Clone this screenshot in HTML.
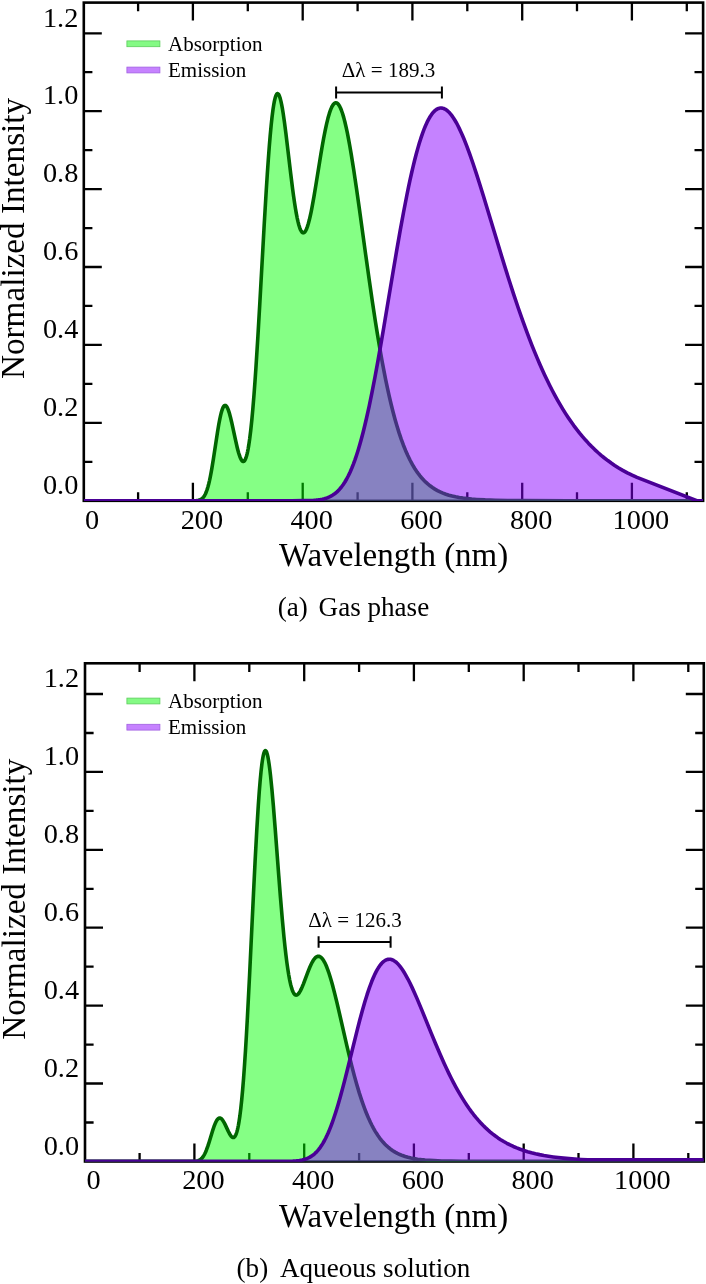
<!DOCTYPE html>
<html><head><meta charset="utf-8"><style>
html,body{margin:0;padding:0;background:#fff;}
svg{display:block;font-family:"Liberation Serif",serif;}
svg{will-change:transform;}
</style></head><body>
<svg width="706" height="1284" viewBox="0 0 706 1284">
<rect width="706" height="1284" fill="#fff"/>
<path d="M138.1 500.8v-8.6M138.1 2.6v8.6M192.9 500.8v-18.0M192.9 2.6v18.0M247.8 500.8v-8.6M247.8 2.6v8.6M302.7 500.8v-18.0M302.7 2.6v18.0M357.6 500.8v-8.6M357.6 2.6v8.6M412.4 500.8v-18.0M412.4 2.6v18.0M467.3 500.8v-8.6M467.3 2.6v8.6M522.2 500.8v-18.0M522.2 2.6v18.0M577.0 500.8v-8.6M577.0 2.6v8.6M631.9 500.8v-18.0M631.9 2.6v18.0M686.8 500.8v-8.6M686.8 2.6v8.6M83.8 461.8h8.6M703.1 461.8h-8.6M83.8 422.8h18.0M703.1 422.8h-18.0M83.8 383.9h8.6M703.1 383.9h-8.6M83.8 344.9h18.0M703.1 344.9h-18.0M83.8 305.9h8.6M703.1 305.9h-8.6M83.8 267.0h18.0M703.1 267.0h-18.0M83.8 228.1h8.6M703.1 228.1h-8.6M83.8 189.1h18.0M703.1 189.1h-18.0M83.8 150.1h8.6M703.1 150.1h-8.6M83.8 111.2h18.0M703.1 111.2h-18.0M83.8 72.2h8.6M703.1 72.2h-8.6M83.8 33.3h18.0M703.1 33.3h-18.0" stroke="#000" stroke-width="2.3" fill="none"/>
<rect x="83.8" y="2.6" width="619.3" height="498.2" fill="none" stroke="#000" stroke-width="2.6"/>
<clipPath id="c0"><rect x="83.80" y="2.60" width="619.30" height="498.50"/></clipPath>
<g clip-path="url(#c0)">
<path d="M83.80 500.70L193.40 500.68L196.35 500.57L197.45 500.46L198.40 500.30L199.25 500.10L200.05 499.82L200.80 499.48L201.50 499.06L202.55 498.20L203.55 497.08L204.50 495.67L205.40 493.98L206.25 492.00L207.10 489.64L207.90 487.02L208.70 484.02L209.45 480.84L210.25 477.07L211.05 472.92L211.90 468.14L213.55 457.96L217.60 431.40L218.80 424.30L219.90 418.55L220.55 415.56L221.20 412.92L221.80 410.82L222.40 409.05L223.05 407.52L223.65 406.48L224.25 405.79L224.55 405.58L224.85 405.46L225.10 405.42L225.40 405.46L225.65 405.55L225.95 405.75L226.50 406.31L227.05 407.14L227.60 408.22L228.20 409.66L228.80 411.37L229.40 413.30L230.45 417.17L231.60 421.97L235.55 440.23L237.10 446.98L237.85 449.96L238.60 452.69L239.30 454.97L240.00 456.96L240.70 458.63L241.40 459.95L242.10 460.88L242.45 461.20L242.75 461.38L243.10 461.49L243.40 461.49L243.75 461.39L244.05 461.21L244.40 460.88L244.70 460.49L245.30 459.44L245.90 457.98L246.45 456.29L247.00 454.25L247.55 451.84L248.10 449.05L248.65 445.89L249.70 438.78L250.75 430.23L251.85 419.73L252.95 407.68L254.05 394.12L254.95 381.97L255.90 368.20L257.90 336.42L259.80 303.61L264.15 225.65L266.25 190.32L267.30 174.01L268.30 159.55L269.25 146.94L270.20 135.51L271.15 125.38L272.05 117.02L273.00 109.57L273.90 103.83L274.35 101.44L274.80 99.38L275.25 97.64L275.70 96.22L276.15 95.11L276.60 94.32L277.05 93.83L277.30 93.69L277.55 93.64L277.85 93.70L278.20 93.93L278.50 94.26L278.85 94.81L279.50 96.25L280.20 98.39L280.90 101.11L281.65 104.62L282.40 108.68L283.15 113.25L284.45 122.18L285.85 132.91L290.75 174.06L292.65 189.21L293.60 196.23L294.55 202.78L295.45 208.48L296.30 213.38L297.15 217.78L298.00 221.64L298.85 224.95L299.65 227.54L300.50 229.73L301.30 231.25L301.70 231.83L302.10 232.27L302.50 232.58L302.95 232.78L303.35 232.83L303.80 232.73L304.25 232.48L304.70 232.07L305.15 231.52L305.60 230.82L306.05 229.98L306.50 228.99L307.40 226.63L308.35 223.58L309.35 219.81L310.35 215.52L311.20 211.51L312.10 206.94L314.00 196.39L315.85 185.30L320.80 154.61L322.30 145.78L323.65 138.27L325.15 130.55L326.60 123.83L328.00 118.11L329.35 113.39L330.10 111.13L330.85 109.12L331.60 107.39L332.35 105.93L333.10 104.75L333.85 103.85L334.60 103.23L334.95 103.03L335.35 102.89L335.70 102.83L336.10 102.83L336.45 102.90L336.85 103.05L337.60 103.55L338.35 104.33L339.10 105.37L339.85 106.69L340.60 108.26L341.40 110.22L342.55 113.52L343.70 117.38L344.85 121.77L346.05 126.88L347.30 132.74L348.55 139.11L349.85 146.23L351.20 154.09L353.70 169.74L356.45 188.24L359.40 209.08L366.05 257.36L369.10 279.12L372.35 301.50L375.35 321.17L377.10 332.13L378.85 342.69L380.55 352.53L382.25 361.95L383.95 370.95L385.65 379.53L387.35 387.68L389.05 395.41L391.00 403.76L393.00 411.77L395.00 419.23L397.05 426.34L399.10 432.91L401.20 439.13L403.35 444.97L405.55 450.45L407.80 455.54L410.10 460.27L412.45 464.63L414.90 468.71L417.40 472.44L418.70 474.21L420.00 475.88L421.35 477.51L422.70 479.04L424.10 480.52L425.50 481.91L427.75 483.95L430.05 485.81L432.45 487.55L434.90 489.12L437.45 490.56L440.15 491.89L442.95 493.10L445.90 494.19L448.95 495.16L452.20 496.03L455.60 496.80L459.25 497.49L463.10 498.08L467.25 498.60L471.75 499.05L476.60 499.42L485.20 499.89L495.40 500.22L507.75 500.45L523.55 500.59L567.30 500.69L703.10 500.70L703.10 500.80L83.80 500.80Z" fill="rgba(0,255,0,0.48)"/>
<path d="M83.80 500.70L193.40 500.68L196.35 500.57L197.45 500.46L198.40 500.30L199.25 500.10L200.05 499.82L200.80 499.48L201.50 499.06L202.55 498.20L203.55 497.08L204.50 495.67L205.40 493.98L206.25 492.00L207.10 489.64L207.90 487.02L208.70 484.02L209.45 480.84L210.25 477.07L211.05 472.92L211.90 468.14L213.55 457.96L217.60 431.40L218.80 424.30L219.90 418.55L220.55 415.56L221.20 412.92L221.80 410.82L222.40 409.05L223.05 407.52L223.65 406.48L224.25 405.79L224.55 405.58L224.85 405.46L225.10 405.42L225.40 405.46L225.65 405.55L225.95 405.75L226.50 406.31L227.05 407.14L227.60 408.22L228.20 409.66L228.80 411.37L229.40 413.30L230.45 417.17L231.60 421.97L235.55 440.23L237.10 446.98L237.85 449.96L238.60 452.69L239.30 454.97L240.00 456.96L240.70 458.63L241.40 459.95L242.10 460.88L242.45 461.20L242.75 461.38L243.10 461.49L243.40 461.49L243.75 461.39L244.05 461.21L244.40 460.88L244.70 460.49L245.30 459.44L245.90 457.98L246.45 456.29L247.00 454.25L247.55 451.84L248.10 449.05L248.65 445.89L249.70 438.78L250.75 430.23L251.85 419.73L252.95 407.68L254.05 394.12L254.95 381.97L255.90 368.20L257.90 336.42L259.80 303.61L264.15 225.65L266.25 190.32L267.30 174.01L268.30 159.55L269.25 146.94L270.20 135.51L271.15 125.38L272.05 117.02L273.00 109.57L273.90 103.83L274.35 101.44L274.80 99.38L275.25 97.64L275.70 96.22L276.15 95.11L276.60 94.32L277.05 93.83L277.30 93.69L277.55 93.64L277.85 93.70L278.20 93.93L278.50 94.26L278.85 94.81L279.50 96.25L280.20 98.39L280.90 101.11L281.65 104.62L282.40 108.68L283.15 113.25L284.45 122.18L285.85 132.91L290.75 174.06L292.65 189.21L293.60 196.23L294.55 202.78L295.45 208.48L296.30 213.38L297.15 217.78L298.00 221.64L298.85 224.95L299.65 227.54L300.50 229.73L301.30 231.25L301.70 231.83L302.10 232.27L302.50 232.58L302.95 232.78L303.35 232.83L303.80 232.73L304.25 232.48L304.70 232.07L305.15 231.52L305.60 230.82L306.05 229.98L306.50 228.99L307.40 226.63L308.35 223.58L309.35 219.81L310.35 215.52L311.20 211.51L312.10 206.94L314.00 196.39L315.85 185.30L320.80 154.61L322.30 145.78L323.65 138.27L325.15 130.55L326.60 123.83L328.00 118.11L329.35 113.39L330.10 111.13L330.85 109.12L331.60 107.39L332.35 105.93L333.10 104.75L333.85 103.85L334.60 103.23L334.95 103.03L335.35 102.89L335.70 102.83L336.10 102.83L336.45 102.90L336.85 103.05L337.60 103.55L338.35 104.33L339.10 105.37L339.85 106.69L340.60 108.26L341.40 110.22L342.55 113.52L343.70 117.38L344.85 121.77L346.05 126.88L347.30 132.74L348.55 139.11L349.85 146.23L351.20 154.09L353.70 169.74L356.45 188.24L359.40 209.08L366.05 257.36L369.10 279.12L372.35 301.50L375.35 321.17L377.10 332.13L378.85 342.69L380.55 352.53L382.25 361.95L383.95 370.95L385.65 379.53L387.35 387.68L389.05 395.41L391.00 403.76L393.00 411.77L395.00 419.23L397.05 426.34L399.10 432.91L401.20 439.13L403.35 444.97L405.55 450.45L407.80 455.54L410.10 460.27L412.45 464.63L414.90 468.71L417.40 472.44L418.70 474.21L420.00 475.88L421.35 477.51L422.70 479.04L424.10 480.52L425.50 481.91L427.75 483.95L430.05 485.81L432.45 487.55L434.90 489.12L437.45 490.56L440.15 491.89L442.95 493.10L445.90 494.19L448.95 495.16L452.20 496.03L455.60 496.80L459.25 497.49L463.10 498.08L467.25 498.60L471.75 499.05L476.60 499.42L485.20 499.89L495.40 500.22L507.75 500.45L523.55 500.59L567.30 500.69L703.10 500.70" fill="none" stroke="#006600" stroke-width="3.6" stroke-linejoin="round"/>
<path d="M83.80 500.70L292.15 500.70L303.75 500.64L310.90 500.45L313.65 500.30L316.15 500.10L318.40 499.85L320.50 499.54L322.45 499.16L324.30 498.72L326.05 498.21L327.75 497.60L329.40 496.90L330.95 496.14L332.45 495.28L333.90 494.32L335.30 493.28L336.70 492.11L338.05 490.84L339.40 489.43L341.25 487.24L343.10 484.75L344.90 482.00L346.65 479.00L348.35 475.76L350.05 472.18L351.75 468.25L353.40 464.09L355.05 459.58L356.70 454.71L358.35 449.48L359.95 444.05L361.55 438.28L363.20 431.96L364.85 425.29L366.50 418.26L369.20 406.03L372.00 392.43L374.90 377.47L377.95 360.89L380.60 345.91L383.55 328.74L393.20 271.07L396.75 250.17L400.30 229.93L403.50 212.48L406.90 194.99L408.50 187.20L410.10 179.70L411.65 172.75L413.20 166.11L414.75 159.79L416.25 154.01L417.80 148.37L419.35 143.09L420.90 138.17L422.45 133.62L424.00 129.44L425.50 125.76L427.00 122.42L428.55 119.35L430.05 116.74L431.60 114.40L433.15 112.44L433.90 111.62L434.70 110.84L435.45 110.20L436.25 109.61L437.05 109.11L437.85 108.71L438.60 108.41L439.40 108.19L440.20 108.06L441.00 108.01L442.30 108.13L443.65 108.49L444.95 109.07L446.30 109.90L447.65 110.96L449.05 112.29L450.45 113.85L451.85 115.63L453.30 117.69L454.75 119.98L456.20 122.47L457.70 125.26L459.25 128.36L460.80 131.66L462.40 135.27L464.00 139.07L466.80 146.15L469.75 154.12L472.85 163.00L476.20 173.07L479.60 183.69L483.35 195.75L500.75 253.35L505.15 267.64L509.20 280.51L513.85 294.86L518.35 308.25L522.70 320.68L527.00 332.44L529.55 339.16L532.05 345.56L534.60 351.89L537.10 357.91L539.60 363.74L542.15 369.49L544.65 374.94L547.20 380.30L549.75 385.48L552.30 390.47L554.90 395.36L557.50 400.07L560.15 404.67L562.80 409.09L565.45 413.33L568.15 417.46L570.95 421.56L573.80 425.55L576.70 429.41L579.60 433.09L582.55 436.64L585.55 440.08L588.60 443.39L591.65 446.54L594.75 449.56L597.95 452.51L601.15 455.29L604.45 458.00L607.80 460.58L611.20 463.05L614.70 465.43L618.25 467.69L622.75 470.35L627.35 472.85L632.10 475.21L637.00 477.44L696.80 500.70L703.10 500.70L703.10 500.80L83.80 500.80Z" fill="rgba(136,0,255,0.49)"/>
<path d="M83.80 500.70L292.15 500.70L303.75 500.64L310.90 500.45L313.65 500.30L316.15 500.10L318.40 499.85L320.50 499.54L322.45 499.16L324.30 498.72L326.05 498.21L327.75 497.60L329.40 496.90L330.95 496.14L332.45 495.28L333.90 494.32L335.30 493.28L336.70 492.11L338.05 490.84L339.40 489.43L341.25 487.24L343.10 484.75L344.90 482.00L346.65 479.00L348.35 475.76L350.05 472.18L351.75 468.25L353.40 464.09L355.05 459.58L356.70 454.71L358.35 449.48L359.95 444.05L361.55 438.28L363.20 431.96L364.85 425.29L366.50 418.26L369.20 406.03L372.00 392.43L374.90 377.47L377.95 360.89L380.60 345.91L383.55 328.74L393.20 271.07L396.75 250.17L400.30 229.93L403.50 212.48L406.90 194.99L408.50 187.20L410.10 179.70L411.65 172.75L413.20 166.11L414.75 159.79L416.25 154.01L417.80 148.37L419.35 143.09L420.90 138.17L422.45 133.62L424.00 129.44L425.50 125.76L427.00 122.42L428.55 119.35L430.05 116.74L431.60 114.40L433.15 112.44L433.90 111.62L434.70 110.84L435.45 110.20L436.25 109.61L437.05 109.11L437.85 108.71L438.60 108.41L439.40 108.19L440.20 108.06L441.00 108.01L442.30 108.13L443.65 108.49L444.95 109.07L446.30 109.90L447.65 110.96L449.05 112.29L450.45 113.85L451.85 115.63L453.30 117.69L454.75 119.98L456.20 122.47L457.70 125.26L459.25 128.36L460.80 131.66L462.40 135.27L464.00 139.07L466.80 146.15L469.75 154.12L472.85 163.00L476.20 173.07L479.60 183.69L483.35 195.75L500.75 253.35L505.15 267.64L509.20 280.51L513.85 294.86L518.35 308.25L522.70 320.68L527.00 332.44L529.55 339.16L532.05 345.56L534.60 351.89L537.10 357.91L539.60 363.74L542.15 369.49L544.65 374.94L547.20 380.30L549.75 385.48L552.30 390.47L554.90 395.36L557.50 400.07L560.15 404.67L562.80 409.09L565.45 413.33L568.15 417.46L570.95 421.56L573.80 425.55L576.70 429.41L579.60 433.09L582.55 436.64L585.55 440.08L588.60 443.39L591.65 446.54L594.75 449.56L597.95 452.51L601.15 455.29L604.45 458.00L607.80 460.58L611.20 463.05L614.70 465.43L618.25 467.69L622.75 470.35L627.35 472.85L632.10 475.21L637.00 477.44L696.80 500.70L703.10 500.70" fill="none" stroke="#4a0096" stroke-width="3.6" stroke-linejoin="round"/>
</g>
<g font-size="28.3"><text x="92.2" y="528.5" text-anchor="middle">0</text><text x="201.9" y="528.5" text-anchor="middle">200</text><text x="311.7" y="528.5" text-anchor="middle">400</text><text x="421.4" y="528.5" text-anchor="middle">600</text><text x="531.2" y="528.5" text-anchor="middle">800</text><text x="640.9" y="528.5" text-anchor="middle">1000</text><text x="78.3" y="493.9" text-anchor="end">0.0</text><text x="78.3" y="416.0" text-anchor="end">0.2</text><text x="78.3" y="338.1" text-anchor="end">0.4</text><text x="78.3" y="260.2" text-anchor="end">0.6</text><text x="78.3" y="182.3" text-anchor="end">0.8</text><text x="78.3" y="104.4" text-anchor="end">1.0</text><text x="78.3" y="26.5" text-anchor="end">1.2</text></g>
<text x="279.1" y="565.8" font-size="33">Wavelength (nm)</text>
<text transform="translate(24.3 379.0) rotate(-90)" font-size="33.2">Normalized Intensity</text>
<rect x="126.9" y="40.9" width="33" height="5.8" fill="#84fa84" stroke="#5ccc5c" stroke-width="0.8"/>
<rect x="126.9" y="67.1" width="33" height="5.8" fill="#c682ff" stroke="#a060e0" stroke-width="0.8"/>
<text x="168.0" y="50.8" font-size="21">Absorption</text>
<text x="168.0" y="77.0" font-size="21">Emission</text>
<path d="M336.1 92.6H441.9M336.1 86.6v12.0M441.9 86.6v12.0" stroke="#000" stroke-width="2" fill="none"/>
<text x="388.5" y="77.1" font-size="21" text-anchor="middle">Δλ = 189.3</text>
<text x="277.8" y="616.3" font-size="27.1">(a)</text>
<text x="318.6" y="616.3" font-size="27.1">Gas phase</text>
<path d="M139.6 1161.5v-8.6M139.6 663.3v8.6M194.4 1161.5v-18.0M194.4 663.3v18.0M249.3 1161.5v-8.6M249.3 663.3v8.6M304.2 1161.5v-18.0M304.2 663.3v18.0M359.1 1161.5v-8.6M359.1 663.3v8.6M413.9 1161.5v-18.0M413.9 663.3v18.0M468.8 1161.5v-8.6M468.8 663.3v8.6M523.7 1161.5v-18.0M523.7 663.3v18.0M578.5 1161.5v-8.6M578.5 663.3v8.6M633.4 1161.5v-18.0M633.4 663.3v18.0M688.3 1161.5v-8.6M688.3 663.3v8.6M85.0 1122.5h8.6M703.8 1122.5h-8.6M85.0 1083.5h18.0M703.8 1083.5h-18.0M85.0 1044.6h8.6M703.8 1044.6h-8.6M85.0 1005.6h18.0M703.8 1005.6h-18.0M85.0 966.7h8.6M703.8 966.7h-8.6M85.0 927.7h18.0M703.8 927.7h-18.0M85.0 888.8h8.6M703.8 888.8h-8.6M85.0 849.8h18.0M703.8 849.8h-18.0M85.0 810.9h8.6M703.8 810.9h-8.6M85.0 771.9h18.0M703.8 771.9h-18.0M85.0 733.0h8.6M703.8 733.0h-8.6M85.0 694.0h18.0M703.8 694.0h-18.0" stroke="#000" stroke-width="2.3" fill="none"/>
<rect x="85.0" y="663.3" width="618.8" height="498.2" fill="none" stroke="#000" stroke-width="2.6"/>
<clipPath id="c660"><rect x="85.05" y="663.30" width="618.75" height="498.50"/></clipPath>
<g clip-path="url(#c660)">
<path d="M85.05 1161.40L190.55 1161.39L193.30 1161.34L195.20 1161.23L196.75 1161.02L198.05 1160.69L199.05 1160.30L200.00 1159.78L200.85 1159.17L201.70 1158.39L202.50 1157.48L203.30 1156.37L204.05 1155.15L204.80 1153.75L205.50 1152.26L206.25 1150.49L207.75 1146.42L209.20 1141.95L212.90 1129.83L213.95 1126.72L214.95 1124.09L215.55 1122.70L216.10 1121.57L216.65 1120.59L217.20 1119.76L217.75 1119.09L218.30 1118.58L218.85 1118.24L219.40 1118.07L219.85 1118.05L220.30 1118.13L220.75 1118.32L221.20 1118.61L221.65 1118.99L222.15 1119.53L223.10 1120.81L224.00 1122.31L224.95 1124.13L228.10 1130.88L229.30 1133.28L230.50 1135.31L231.05 1136.07L231.55 1136.64L232.15 1137.15L232.70 1137.44L233.25 1137.54L233.80 1137.42L234.35 1137.07L234.85 1136.52L235.35 1135.75L235.85 1134.74L236.40 1133.33L236.90 1131.75L237.40 1129.89L237.90 1127.72L238.40 1125.24L238.90 1122.42L239.85 1116.11L240.80 1108.48L241.70 1099.99L242.60 1090.24L243.55 1078.56L244.50 1065.49L245.45 1051.06L246.45 1034.49L247.50 1015.71L249.60 974.76L253.50 893.39L255.10 861.20L256.75 830.62L258.30 805.38L259.25 791.94L260.15 780.82L261.05 771.35L261.90 764.01L262.35 760.76L262.80 757.97L263.20 755.86L263.65 753.92L264.05 752.57L264.50 751.47L264.70 751.13L264.95 750.82L265.15 750.67L265.40 750.60L265.70 750.70L266.00 750.98L266.30 751.45L266.60 752.10L267.20 753.94L267.85 756.70L268.50 760.23L269.15 764.47L269.80 769.38L270.50 775.36L271.90 789.20L273.40 806.25L275.10 827.50L278.75 875.57L280.45 897.24L282.25 918.62L283.95 936.80L284.95 946.43L285.90 954.79L286.85 962.35L287.80 969.09L288.75 975.01L289.70 980.12L290.65 984.42L291.65 988.10L292.35 990.19L293.10 991.99L293.85 993.36L294.20 993.86L294.60 994.32L294.95 994.64L295.35 994.90L295.75 995.06L296.15 995.12L296.55 995.08L296.95 994.96L297.35 994.75L297.80 994.42L298.60 993.58L299.45 992.39L300.35 990.84L301.30 988.92L302.25 986.77L303.35 984.06L307.85 972.08L309.90 967.02L311.05 964.48L312.15 962.31L313.20 960.51L314.20 959.07L314.80 958.34L315.40 957.72L316.00 957.21L316.60 956.80L317.20 956.51L317.80 956.34L318.40 956.28L319.00 956.33L319.55 956.48L320.15 956.76L320.75 957.15L321.35 957.65L321.95 958.27L322.55 959.00L323.15 959.84L323.75 960.79L324.75 962.60L325.80 964.81L326.85 967.31L327.90 970.09L329.00 973.28L330.10 976.73L331.30 980.77L332.50 985.06L334.60 993.09L337.00 1002.90L339.45 1013.38L346.95 1046.08L349.40 1056.37L351.70 1065.66L354.30 1075.62L356.85 1084.77L359.35 1093.11L361.80 1100.65L363.20 1104.67L364.65 1108.63L366.05 1112.24L367.50 1115.78L368.95 1119.11L370.40 1122.23L371.90 1125.27L373.40 1128.10L374.95 1130.83L376.50 1133.36L378.10 1135.78L379.70 1138.02L381.35 1140.14L383.00 1142.09L384.75 1143.98L386.50 1145.70L388.55 1147.52L390.65 1149.18L392.85 1150.72L395.10 1152.10L397.45 1153.37L399.90 1154.51L402.50 1155.56L405.20 1156.48L408.00 1157.29L411.00 1158.01L414.15 1158.64L417.55 1159.19L421.20 1159.66L425.10 1160.05L429.35 1160.38L434.05 1160.65L441.70 1160.95L450.90 1161.15L462.35 1161.28L477.65 1161.36L519.60 1161.40L703.80 1161.40L703.80 1161.50L85.05 1161.50Z" fill="rgba(0,255,0,0.48)"/>
<path d="M85.05 1161.40L190.55 1161.39L193.30 1161.34L195.20 1161.23L196.75 1161.02L198.05 1160.69L199.05 1160.30L200.00 1159.78L200.85 1159.17L201.70 1158.39L202.50 1157.48L203.30 1156.37L204.05 1155.15L204.80 1153.75L205.50 1152.26L206.25 1150.49L207.75 1146.42L209.20 1141.95L212.90 1129.83L213.95 1126.72L214.95 1124.09L215.55 1122.70L216.10 1121.57L216.65 1120.59L217.20 1119.76L217.75 1119.09L218.30 1118.58L218.85 1118.24L219.40 1118.07L219.85 1118.05L220.30 1118.13L220.75 1118.32L221.20 1118.61L221.65 1118.99L222.15 1119.53L223.10 1120.81L224.00 1122.31L224.95 1124.13L228.10 1130.88L229.30 1133.28L230.50 1135.31L231.05 1136.07L231.55 1136.64L232.15 1137.15L232.70 1137.44L233.25 1137.54L233.80 1137.42L234.35 1137.07L234.85 1136.52L235.35 1135.75L235.85 1134.74L236.40 1133.33L236.90 1131.75L237.40 1129.89L237.90 1127.72L238.40 1125.24L238.90 1122.42L239.85 1116.11L240.80 1108.48L241.70 1099.99L242.60 1090.24L243.55 1078.56L244.50 1065.49L245.45 1051.06L246.45 1034.49L247.50 1015.71L249.60 974.76L253.50 893.39L255.10 861.20L256.75 830.62L258.30 805.38L259.25 791.94L260.15 780.82L261.05 771.35L261.90 764.01L262.35 760.76L262.80 757.97L263.20 755.86L263.65 753.92L264.05 752.57L264.50 751.47L264.70 751.13L264.95 750.82L265.15 750.67L265.40 750.60L265.70 750.70L266.00 750.98L266.30 751.45L266.60 752.10L267.20 753.94L267.85 756.70L268.50 760.23L269.15 764.47L269.80 769.38L270.50 775.36L271.90 789.20L273.40 806.25L275.10 827.50L278.75 875.57L280.45 897.24L282.25 918.62L283.95 936.80L284.95 946.43L285.90 954.79L286.85 962.35L287.80 969.09L288.75 975.01L289.70 980.12L290.65 984.42L291.65 988.10L292.35 990.19L293.10 991.99L293.85 993.36L294.20 993.86L294.60 994.32L294.95 994.64L295.35 994.90L295.75 995.06L296.15 995.12L296.55 995.08L296.95 994.96L297.35 994.75L297.80 994.42L298.60 993.58L299.45 992.39L300.35 990.84L301.30 988.92L302.25 986.77L303.35 984.06L307.85 972.08L309.90 967.02L311.05 964.48L312.15 962.31L313.20 960.51L314.20 959.07L314.80 958.34L315.40 957.72L316.00 957.21L316.60 956.80L317.20 956.51L317.80 956.34L318.40 956.28L319.00 956.33L319.55 956.48L320.15 956.76L320.75 957.15L321.35 957.65L321.95 958.27L322.55 959.00L323.15 959.84L323.75 960.79L324.75 962.60L325.80 964.81L326.85 967.31L327.90 970.09L329.00 973.28L330.10 976.73L331.30 980.77L332.50 985.06L334.60 993.09L337.00 1002.90L339.45 1013.38L346.95 1046.08L349.40 1056.37L351.70 1065.66L354.30 1075.62L356.85 1084.77L359.35 1093.11L361.80 1100.65L363.20 1104.67L364.65 1108.63L366.05 1112.24L367.50 1115.78L368.95 1119.11L370.40 1122.23L371.90 1125.27L373.40 1128.10L374.95 1130.83L376.50 1133.36L378.10 1135.78L379.70 1138.02L381.35 1140.14L383.00 1142.09L384.75 1143.98L386.50 1145.70L388.55 1147.52L390.65 1149.18L392.85 1150.72L395.10 1152.10L397.45 1153.37L399.90 1154.51L402.50 1155.56L405.20 1156.48L408.00 1157.29L411.00 1158.01L414.15 1158.64L417.55 1159.19L421.20 1159.66L425.10 1160.05L429.35 1160.38L434.05 1160.65L441.70 1160.95L450.90 1161.15L462.35 1161.28L477.65 1161.36L519.60 1161.40L703.80 1161.40" fill="none" stroke="#006600" stroke-width="3.6" stroke-linejoin="round"/>
<path d="M85.05 1161.40L273.15 1161.40L282.75 1161.37L288.55 1161.30L292.85 1161.14L296.40 1160.89L299.50 1160.51L302.25 1160.00L304.80 1159.32L307.20 1158.45L308.35 1157.94L309.45 1157.38L311.55 1156.13L313.10 1155.02L314.60 1153.78L316.05 1152.41L317.50 1150.86L318.90 1149.18L320.30 1147.31L321.65 1145.32L323.00 1143.13L324.35 1140.75L325.65 1138.25L326.95 1135.57L328.25 1132.68L329.55 1129.60L330.85 1126.32L332.15 1122.84L333.50 1119.02L335.65 1112.52L337.90 1105.20L340.20 1097.21L342.60 1088.40L344.70 1080.37L347.00 1071.29L357.20 1030.06L359.85 1019.80L362.30 1010.74L364.80 1002.03L367.15 994.42L369.45 987.59L371.70 981.55L372.85 978.73L373.95 976.19L375.05 973.83L376.15 971.65L377.25 969.64L378.35 967.80L379.45 966.15L380.50 964.74L381.55 963.49L382.65 962.36L383.75 961.40L384.85 960.63L385.95 960.03L387.05 959.60L388.15 959.34L389.30 959.25L390.35 959.32L391.45 959.56L392.50 959.93L393.60 960.46L394.70 961.15L395.80 961.97L396.90 962.94L398.05 964.09L399.20 965.38L400.40 966.87L401.60 968.49L402.80 970.25L404.05 972.22L405.30 974.31L407.90 979.02L409.95 983.05L412.15 987.64L414.45 992.69L416.95 998.40L421.65 1009.61L431.30 1033.34L435.60 1043.75L440.10 1054.30L444.30 1063.73L446.65 1068.79L448.95 1073.60L451.25 1078.24L453.50 1082.62L455.75 1086.83L458.00 1090.89L460.20 1094.69L462.45 1098.42L464.65 1101.90L466.85 1105.23L469.10 1108.48L471.35 1111.58L473.60 1114.52L475.90 1117.37L478.25 1120.13L480.60 1122.74L483.00 1125.25L485.40 1127.62L487.85 1129.89L490.30 1132.02L492.85 1134.10L495.40 1136.04L498.00 1137.89L500.70 1139.68L503.75 1141.54L506.85 1143.28L510.05 1144.92L513.35 1146.47L516.75 1147.91L520.25 1149.26L523.85 1150.50L527.60 1151.67L531.45 1152.74L535.45 1153.72L539.60 1154.63L543.95 1155.47L548.50 1156.23L553.25 1156.92L558.20 1157.54L563.45 1158.11L568.95 1158.61L574.80 1159.06L581.00 1159.45L587.60 1159.80L703.80 1159.80L703.80 1161.50L85.05 1161.50Z" fill="rgba(136,0,255,0.49)"/>
<path d="M85.05 1161.40L273.15 1161.40L282.75 1161.37L288.55 1161.30L292.85 1161.14L296.40 1160.89L299.50 1160.51L302.25 1160.00L304.80 1159.32L307.20 1158.45L308.35 1157.94L309.45 1157.38L311.55 1156.13L313.10 1155.02L314.60 1153.78L316.05 1152.41L317.50 1150.86L318.90 1149.18L320.30 1147.31L321.65 1145.32L323.00 1143.13L324.35 1140.75L325.65 1138.25L326.95 1135.57L328.25 1132.68L329.55 1129.60L330.85 1126.32L332.15 1122.84L333.50 1119.02L335.65 1112.52L337.90 1105.20L340.20 1097.21L342.60 1088.40L344.70 1080.37L347.00 1071.29L357.20 1030.06L359.85 1019.80L362.30 1010.74L364.80 1002.03L367.15 994.42L369.45 987.59L371.70 981.55L372.85 978.73L373.95 976.19L375.05 973.83L376.15 971.65L377.25 969.64L378.35 967.80L379.45 966.15L380.50 964.74L381.55 963.49L382.65 962.36L383.75 961.40L384.85 960.63L385.95 960.03L387.05 959.60L388.15 959.34L389.30 959.25L390.35 959.32L391.45 959.56L392.50 959.93L393.60 960.46L394.70 961.15L395.80 961.97L396.90 962.94L398.05 964.09L399.20 965.38L400.40 966.87L401.60 968.49L402.80 970.25L404.05 972.22L405.30 974.31L407.90 979.02L409.95 983.05L412.15 987.64L414.45 992.69L416.95 998.40L421.65 1009.61L431.30 1033.34L435.60 1043.75L440.10 1054.30L444.30 1063.73L446.65 1068.79L448.95 1073.60L451.25 1078.24L453.50 1082.62L455.75 1086.83L458.00 1090.89L460.20 1094.69L462.45 1098.42L464.65 1101.90L466.85 1105.23L469.10 1108.48L471.35 1111.58L473.60 1114.52L475.90 1117.37L478.25 1120.13L480.60 1122.74L483.00 1125.25L485.40 1127.62L487.85 1129.89L490.30 1132.02L492.85 1134.10L495.40 1136.04L498.00 1137.89L500.70 1139.68L503.75 1141.54L506.85 1143.28L510.05 1144.92L513.35 1146.47L516.75 1147.91L520.25 1149.26L523.85 1150.50L527.60 1151.67L531.45 1152.74L535.45 1153.72L539.60 1154.63L543.95 1155.47L548.50 1156.23L553.25 1156.92L558.20 1157.54L563.45 1158.11L568.95 1158.61L574.80 1159.06L581.00 1159.45L587.60 1159.80L703.80 1159.80" fill="none" stroke="#4a0096" stroke-width="3.6" stroke-linejoin="round"/>
</g>
<g font-size="28.3"><text x="93.7" y="1189.2" text-anchor="middle">0</text><text x="203.4" y="1189.2" text-anchor="middle">200</text><text x="313.2" y="1189.2" text-anchor="middle">400</text><text x="422.9" y="1189.2" text-anchor="middle">600</text><text x="532.7" y="1189.2" text-anchor="middle">800</text><text x="642.4" y="1189.2" text-anchor="middle">1000</text><text x="79.1" y="1154.6" text-anchor="end">0.0</text><text x="79.1" y="1076.7" text-anchor="end">0.2</text><text x="79.1" y="998.8" text-anchor="end">0.4</text><text x="79.1" y="920.9" text-anchor="end">0.6</text><text x="79.1" y="843.0" text-anchor="end">0.8</text><text x="79.1" y="765.1" text-anchor="end">1.0</text><text x="79.1" y="687.2" text-anchor="end">1.2</text></g>
<text x="279.1" y="1226.5" font-size="33">Wavelength (nm)</text>
<text transform="translate(25.1 1039.7) rotate(-90)" font-size="33.2">Normalized Intensity</text>
<rect x="126.9" y="698.1" width="33" height="5.8" fill="#84fa84" stroke="#5ccc5c" stroke-width="0.8"/>
<rect x="126.9" y="724.3" width="33" height="5.8" fill="#c682ff" stroke="#a060e0" stroke-width="0.8"/>
<text x="168.0" y="708.0" font-size="21">Absorption</text>
<text x="168.0" y="734.2" font-size="21">Emission</text>
<path d="M318.6 942.0H390.6M318.6 936.3v11.4M390.6 936.3v11.4" stroke="#000" stroke-width="2" fill="none"/>
<text x="355.0" y="926.6" font-size="21" text-anchor="middle">Δλ = 126.3</text>
<text x="236.6" y="1276.9" font-size="27.1">(b)</text>
<text x="280.0" y="1276.9" font-size="27.1">Aqueous solution</text>
</svg></body></html>
